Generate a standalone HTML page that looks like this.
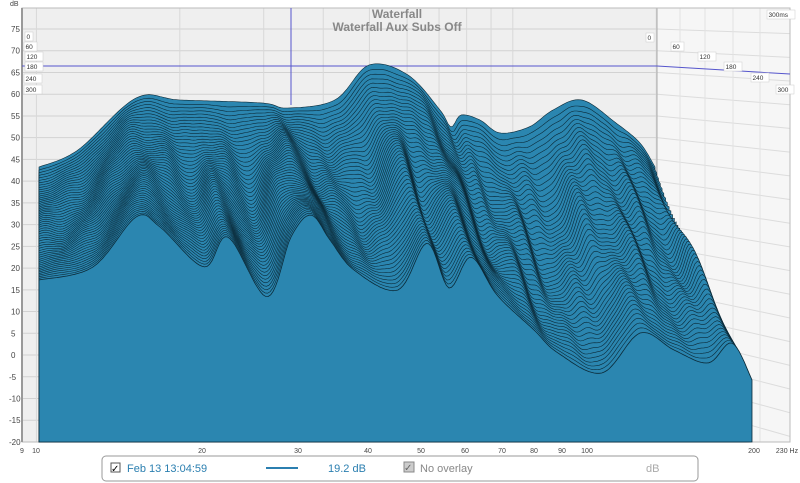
<!DOCTYPE html>
<html><head><meta charset="utf-8"><style>
body{margin:0;background:#fff;width:800px;height:483px;overflow:hidden;font-family:"Liberation Sans",sans-serif}
svg{display:block}
</style></head><body>
<svg id="s" width="800" height="483" xmlns="http://www.w3.org/2000/svg" font-family="Liberation Sans, sans-serif"></svg>
<script>
const S=document.getElementById('s');let h='<defs><clipPath id="c"><rect x="657" y="8" width="133" height="434"/></clipPath></defs>';
h+='<rect x="22" y="8" width="635" height="434" fill="#efefef"/>';
h+='<polygon points="657,8 790,8 790,442 657,442" fill="#f6f6f6"/>';
const Y=d=>29+(75-d)*4.347;
let side='';
for(let d=75;d>=-20;d-=5){const y=Y(d);h+=`<line x1="22" y1="${y}" x2="657" y2="${y}" stroke="#d2d2d2"/>`;
 const dy=8+(y-66)*0.09;side+=`<line x1="657" y1="${y}" x2="790" y2="${y+dy}" stroke="#dcdcdc"/>`;
 h+=`<text x="${d<0?9:11}" y="${y+3}" font-size="8" fill="#444">${d}</text>`;}
h+=`<g clip-path="url(#c)">${side}</g>`;
const X=f=>36+166*Math.log2(f/10);
[10,20,30,40,50,60,70,80,90,100,200].forEach(f=>{const x=39+(X(f)-39)*616/713;h+=`<line x1="${x}" y1="8" x2="${x}" y2="442" stroke="#d8d8d8"/>`;});
[680,705,733,760].forEach(x=>h+=`<line x1="${x}" y1="8" x2="${x}" y2="442" stroke="#e2e2e2"/>`);
h+='<line x1="657" y1="8" x2="657" y2="442" stroke="#aaa"/>';
h+='<rect x="22" y="8" width="768" height="434" fill="none" stroke="#bbb"/>';
h+='<line x1="22" y1="8" x2="22" y2="442" stroke="#999" stroke-width="2"/>';
h+='<line x1="291" y1="8" x2="291" y2="105" stroke="#5555cc"/><line x1="22" y1="66" x2="657" y2="66" stroke="#5555cc"/><line x1="657" y1="66" x2="790" y2="74" stroke="#5555cc"/>';
const back=[[39,167],[78,150],[136,98],[180,100],[262,103],[287,108],[335,100],[369,65],[408,75],[440,110],[451,127],[461,115],[480,120],[500,133],[529,127],[553,110],[582,100],[616,123],[640,143],[655,167]];
const front=[[39,280],[93,267],[136,217],[160,227],[204,267],[228,237],[267,297],[291,237],[311,215],[330,240],[354,270],[398,290],[427,243],[449,288],[471,257],[497,295],[534,330],[558,353],[602,373],[640,333],[674,350],[708,363],[732,343],[752,380]];
function cr(pts){const out=[];for(let i=0;i<pts.length-1;i++){const p0=pts[Math.max(0,i-1)],p1=pts[i],p2=pts[i+1],p3=pts[Math.min(pts.length-1,i+2)];
 for(let k=0;k<10;k++){const t=k/10,t2=t*t,t3=t2*t;const f=(a,b,c,d)=>0.5*(2*b+(-a+c)*t+(2*a-5*b+4*c-d)*t2+(-a+3*b-3*c+d)*t3);out.push([f(p0[0],p1[0],p2[0],p3[0]),f(p0[1],p1[1],p2[1],p3[1])]);}}
 out.push(pts[pts.length-1]);return out;}
function sampler(pts){const c=cr(pts);const x0=pts[0][0],x1=pts[pts.length-1][0];
 return u=>{const x=x0+u*(x1-x0);let i=0;while(i<c.length-2&&c[i+1][0]<x)i++;const a=c[i],b=c[i+1];const t=b[0]==a[0]?0:(x-a[0])/(b[0]-a[0]);return a[1]+(b[1]-a[1])*Math.max(0,Math.min(1,t));};}
const B=sampler(back),F=sampler(front);
const N=55,M=280;
for(let s=0;s<=N;s++){const t=s/N;const W=616+97*t;let d='';
 for(let j=0;j<=M;j++){const u=j/M;const x=39+u*W;
  let y=B(u)+(F(u)-B(u))*Math.pow(t,0.9);
  y+=t*(1-t)*4*(6*Math.sin(u*70+t*9)+4*Math.sin(u*130-t*5)+3*Math.sin(u*210+t*3)*u)*(0.4+u);
  d+=(j?'L':'M')+x.toFixed(1)+' '+y.toFixed(1);}
 const xe=39+W;d+=`L${xe.toFixed(1)} 442L39 442Z`;
 h+=`<path d="${d}" fill="#2b86b0" stroke="#0b2a38" stroke-width="${s==N?0.8:0.6}"/>`;}
const lab=(x,y,t)=>`<rect x="${x}" y="${y-7}" width="${t.length*5+3}" height="9" fill="#fff" stroke="#ccc" stroke-width="0.5"/><text x="${x+1.5}" y="${y}" font-size="6.5" fill="#333">${t}</text>`;
[[25,39,'0'],[24,49,'60'],[25,59,'120'],[25,69,'180'],[24,81,'240'],[24,92,'300'],[646,40,'0'],[671,49,'60'],[698,59,'120'],[724,69,'180'],[751,80,'240'],[776,92,'300'],[767,17,'300ms']].forEach(a=>h+=lab(...a));
h+='<text x="397" y="18" font-size="12" font-weight="bold" fill="#888" text-anchor="middle">Waterfall</text><text x="397" y="31" font-size="12" font-weight="bold" fill="#888" text-anchor="middle">Waterfall Aux Subs Off</text>';
h+='<text x="10" y="6" font-size="7" fill="#444">dB</text>';
[[22,9],[36,10],[202,20],[298,30],[368,40],[421,50],[465,60],[502,70],[534,80],[562,90],[587,100],[754,200],[787,'230 Hz']].forEach(a=>h+=`<text x="${a[0]}" y="453" font-size="7" fill="#444" text-anchor="middle">${a[1]}</text>`);
h+='<rect x="102" y="456" width="596" height="25" rx="4" fill="#fff" stroke="#999"/>';
h+='<rect x="111" y="463" width="9" height="9" fill="#fff" stroke="#555"/><text x="111" y="472" font-size="10">✓</text>';
h+='<text x="127" y="472" font-size="11" fill="#2b7fb0">Feb 13 13:04:59</text><line x1="266" y1="468" x2="298" y2="468" stroke="#2b7fb0" stroke-width="2"/><text x="328" y="472" font-size="11" fill="#2b7fb0">19.2 dB</text>';
h+='<rect x="404" y="462" width="10" height="10" fill="#ccc" stroke="#888"/><text x="404" y="471" font-size="10" fill="#666">✓</text><text x="420" y="472" font-size="11" fill="#888">No overlay</text><text x="646" y="472" font-size="11" fill="#aaa">dB</text>';
S.innerHTML=h;
</script>
</body></html>
